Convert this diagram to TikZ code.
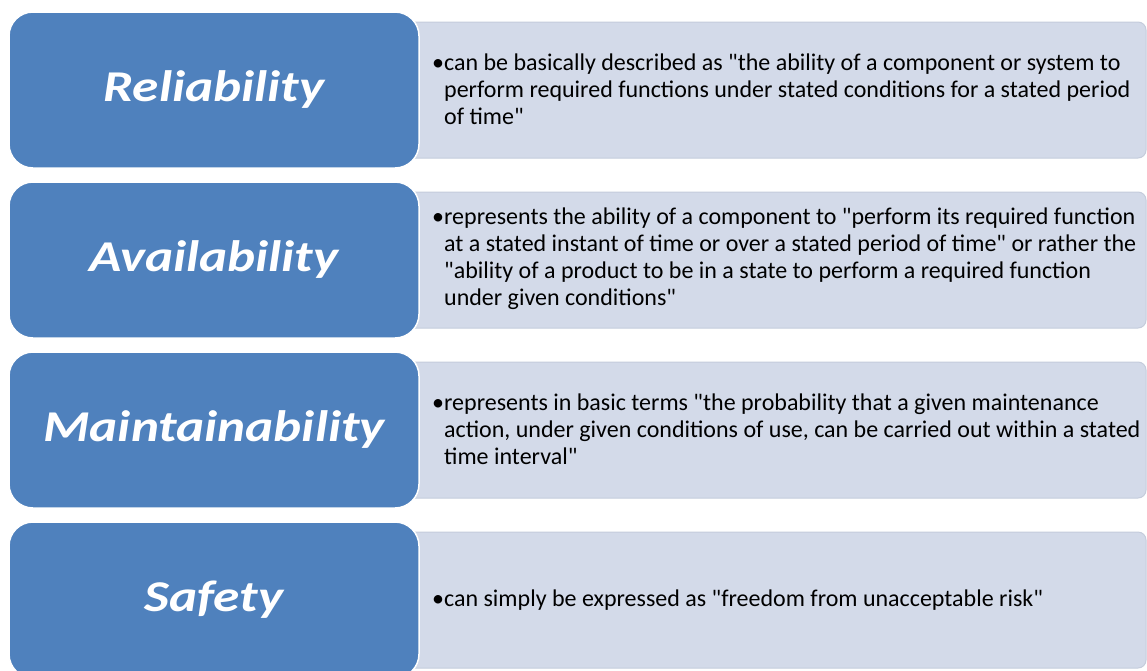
\documentclass[tikz,border=0pt]{standalone}
\usepackage{fontspec}
\setmainfont{Carlito}
\newfontfamily\titlefont{Carlito}[FakeStretch=1.21]
\newfontfamily\notefont{Carlito}
\usepackage{tikz}
\usetikzlibrary{positioning}

\definecolor{titleblue}{RGB}{79,129,189}
\definecolor{notefill}{RGB}{211,218,233}
\definecolor{noteedge}{RGB}{196,204,220}

\newcommand{\hang}{\phantom{\textbullet}}

\begin{document}
\begin{tikzpicture}[x=1pt,y=-1pt,
    notebox/.style={rectangle,rounded corners=8pt,fill=notefill,draw=noteedge,line width=1pt,
        minimum width=741pt,minimum height=136pt,inner sep=0pt},
    titlebox/.style={rectangle,rounded corners=24pt,fill=titleblue,draw=white,line width=1.5pt,
        minimum width=410pt,minimum height=156pt,inner sep=0pt,text=white,
        font=\fontsize{44}{48}\titlefont\bfseries\itshape},
    notetext/.style={anchor=west,inner sep=0pt,align=left,
        font=\fontsize{24}{27}\notefont}]
    \clip (0,0) rectangle (1147,670);
    \fill[white] (0,0) rectangle (1147,670);
    % description boxes
    \node[notebox] (d1) at (775.5,90) {};
    \node[notebox] (d2) at (775.5,260) {};
    \node[notebox] (d3) at (775.5,430) {};
    \node[notebox] (d4) at (775.5,600) {};
    % title boxes
    \node[titlebox] (t1) at (214,90) {Reliability};
    \node[titlebox] (t2) at (214,260) {Availability};
    \node[titlebox] (t3) at (214,430) {Maintainability};
    \node[titlebox] (t4) at (214,600) {Safety};
    % texts
    \node[notetext] (n1) at (432,89) {\textbullet can be basically described as "the ability of a component or system to\\
        \hang perform required functions under stated conditions for a stated period\\
        \hang of time"};
    \node[notetext] (n2) at (432,259) {\textbullet represents the ability of a component to "perform its required function\\
        \hang at a stated instant of time or over a stated period of time" or rather the\\
        \hang "ability of a product to be in a state to perform a required function\\
        \hang under given conditions"};
    \node[notetext] (n3) at (432,429) {\textbullet represents in basic terms "the probability that a given maintenance\\
        \hang action, under given conditions of use, can be carried out within a stated\\
        \hang time interval"};
    \node[notetext] (n4) at (432,600) {\textbullet can simply be expressed as "freedom from unacceptable risk"};
\end{tikzpicture}
\end{document}
